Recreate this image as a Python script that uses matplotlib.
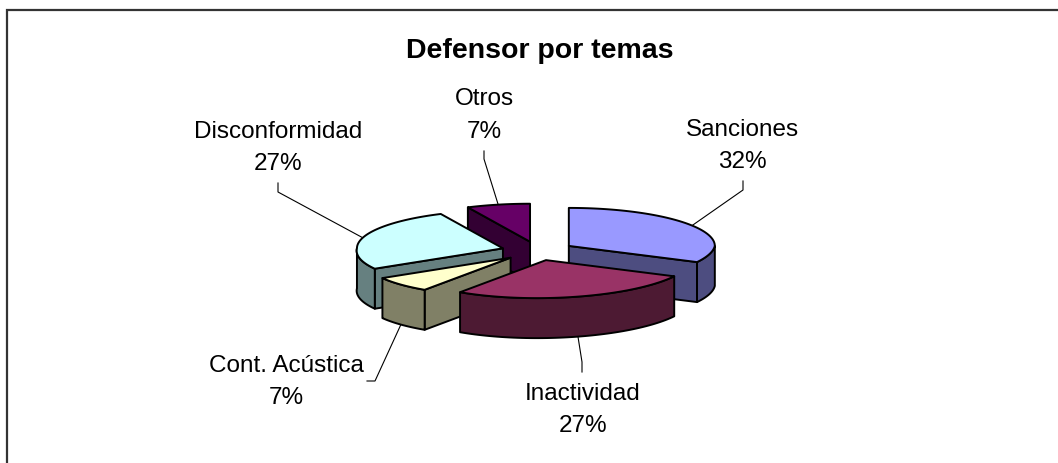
import numpy as np
import matplotlib
matplotlib.use("Agg")
import matplotlib.pyplot as plt
from matplotlib.patches import Polygon

title = "Defensor por temas"
categories = ["Sanciones", "Inactividad", "Cont. Acústica", "Disconformidad", "Otros"]
values = [32, 27, 7, 27, 7]
top_colors = ["#9999FF", "#993366", "#FFFFCC", "#CCFFFF", "#660066"]
side_colors = ["#4D4D80", "#4D1A33", "#808066", "#668080", "#330033"]

# layout (figure pixels)
CX, CY = 538.0, 252.0
RX, RY = 146.0, 38.0
DEPTH = 40.0
EXPLODE = 0.25
SKEW = 0.24  # the original 3D view leans the near half of the pie to the left
label_pos = {"Sanciones": (742, 146), "Inactividad": (583, 410),
             "Cont. Acústica": (286, 382), "Disconformidad": (278, 148),
             "Otros": (484, 115.5)}
# leader: label-side points
elbows = {"Sanciones": [(743, 182), (743, 191)], "Inactividad": [(582, 373), (582, 363)],
          "Cont. Acústica": [(367, 382), (375, 382)], "Disconformidad": [(278, 184), (278, 193)],
          "Otros": [(484, 152), (484, 160)]}

plt.rcParams["font.family"] = ["Liberation Sans", "DejaVu Sans"]
fig = plt.figure(figsize=(10.58, 4.64), dpi=100, facecolor="white")
ax = fig.add_axes([0, 0, 1, 1])
ax.set_xlim(0, 1058)
ax.set_ylim(464, 0)
ax.axis("off")

ax.plot([7, 7, 1058], [464, 11, 11], color="#333333", lw=1.6, solid_joinstyle="miter", zorder=1)

total = sum(values)
edges = np.cumsum([0] + values) / total * 360.0


def pt(a, ox, oy):
    r = np.deg2rad(a)
    dy = -RY * np.cos(r)
    return ox + RX * np.sin(r) - SKEW * max(dy, 0.0), oy + dy


slices = []
for i, name in enumerate(categories):
    a0, a1 = edges[i], edges[i + 1]
    mid = (a0 + a1) / 2
    m = np.deg2rad(mid)
    oy = CY - EXPLODE * RY * np.cos(m)
    ox = CX + EXPLODE * RX * np.sin(m) - SKEW * max(oy - CY, 0.0)
    slices.append((-np.cos(m), i, name, a0, a1, mid, ox, oy))

z = 3
for _, i, name, a0, a1, mid, ox, oy in sorted(slices):
    style = dict(edgecolor="black", lw=1.4, joinstyle="round")
    # radial faces that look towards the viewer
    for a, front in ((a0, np.sin(np.deg2rad(a0)) < -1e-6), (a1, np.sin(np.deg2rad(a1)) > 1e-6)):
        if front:
            x, y = pt(a, ox, oy)
            ax.add_patch(Polygon([(ox, oy), (x, y), (x, y + DEPTH), (ox, oy + DEPTH)],
                                 facecolor=side_colors[i], zorder=z, **style))
            z += 1
    # outer rim
    lo, hi = max(a0, 90), min(a1, 270)
    if hi > lo:
        t = np.linspace(lo, hi, 60)
        up = [pt(a, ox, oy) for a in t]
        down = [(x, y + DEPTH) for x, y in up][::-1]
        ax.add_patch(Polygon(up + down, facecolor=side_colors[i], zorder=z, **style))
        z += 1
    # top
    t = np.linspace(a0, a1, 80)
    ax.add_patch(Polygon([(ox, oy)] + [pt(a, ox, oy) for a in t],
                         facecolor=top_colors[i], zorder=z, **style))
    z += 1
    # leader line
    ax_, ay_ = pt(mid, ox, oy)
    if np.cos(np.deg2rad(mid)) < -0.5:
        ay_ += DEPTH
    pts = elbows[name] + [(ax_, ay_)]
    ax.plot([p[0] for p in pts], [p[1] for p in pts], color="black", lw=0.8, zorder=2,
            solid_joinstyle="miter")
    # label
    lx, ly = label_pos[name]
    ax.text(lx, ly, f"{name}\n{round(values[i] / total * 100)}%", ha="center", va="center",
            fontsize=17.5, linespacing=1.6, color="black", zorder=50)

ax.text(540, 51, title, ha="center", va="center", fontsize=20.5, fontweight="bold", color="black")

fig.savefig("out.png", dpi=100, facecolor="white")
